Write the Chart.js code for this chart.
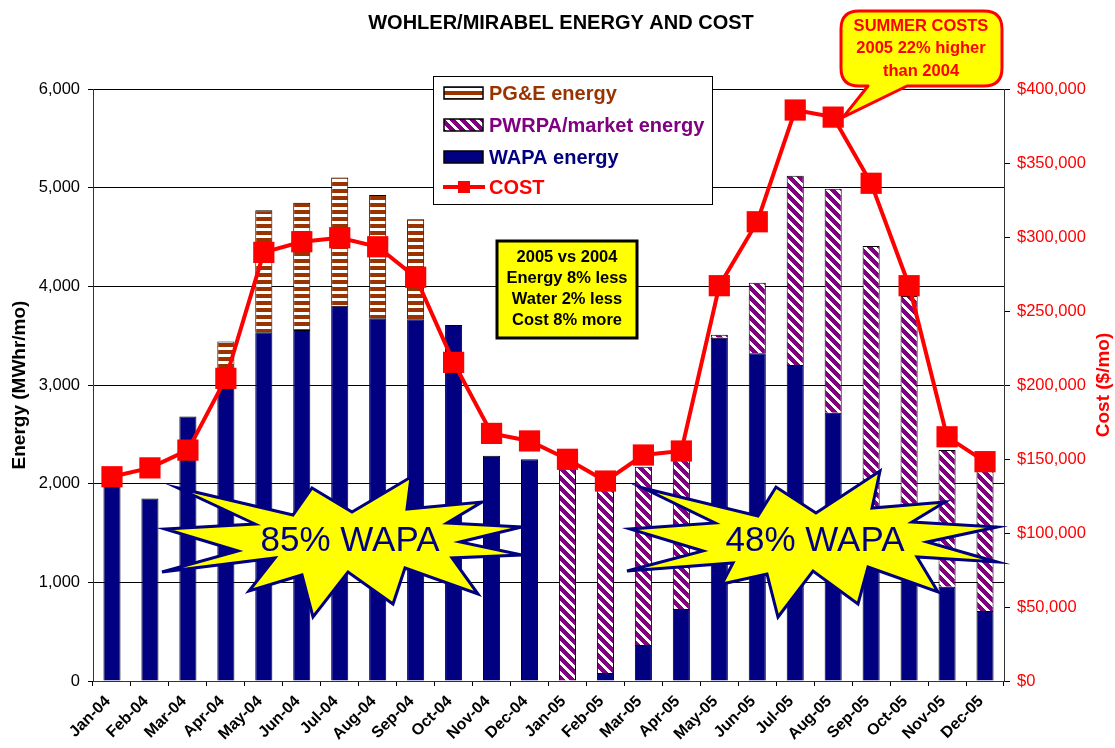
<!DOCTYPE html>
<html>
<head>
<meta charset="utf-8">
<script src="https://cdn.jsdelivr.net/npm/chart.js@4.4.1/dist/chart.umd.min.js"></script>
<style>
  body { margin: 0; background: #fff; }
  #wrap { width: 1115px; height: 748px; }
</style>
</head>
<body>
<div id="wrap"><canvas id="canvas" width="1115" height="748"></canvas></div>
<script>
// months on the x axis
const months = ["Jan-04","Feb-04","Mar-04","Apr-04","May-04","Jun-04","Jul-04","Aug-04","Sep-04","Oct-04","Nov-04","Dec-04",
  "Jan-05","Feb-05","Mar-05","Apr-05","May-05","Jun-05","Jul-05","Aug-05","Sep-05","Oct-05","Nov-05","Dec-05"];

// energy, MWhr/mo
const wapaEnergy = [2000,1850,2680,3000,3534,3557,3804,3676,3666,3608,2284,2247,
  null,80,365,730,3480,3321,3203,2720,1700,1450,956,709];
const pwrpaEnergy = [null,null,null,null,null,null,null,null,null,null,null,null,
  2200,1920,1807,1550,30,716,1919,2270,2709,2452,1385,1441];
const pgeEnergy = [null,null,null,440,1236,1290,1300,1250,1013,null,null,null,
  null,null,null,null,null,null,null,null,null,null,null,null];

// cost, $/mo
const cost = [138000,144000,156000,204500,289600,296800,299500,293400,272800,215300,167300,162200,
  149800,135100,152700,155400,267100,310300,385800,381000,336300,267100,165000,148200];

const energyTicks = { min: 0, max: 6000, step: 1000 };
const costTicks = { min: 0, max: 400000, step: 50000 };

const NAVY = "#000080", PURPLE = "#800080", BROWN = "#993300", RED = "#FF0000", YELLOW = "#FFFF00";
const FONT = "'Liberation Sans', Arial, sans-serif";

function stripes(kind) {
  const c = document.createElement("canvas");
  const n = kind == "h" ? 7 : 10;
  c.width = n; c.height = n;
  const g = c.getContext("2d");
  g.fillStyle = "#fff";
  g.fillRect(0, 0, n, n);
  g.fillStyle = kind == "h" ? BROWN : PURPLE;
  for (let x = 0; x < n; x++) {
    for (let y = 0; y < n; y++) {
      if (kind == "h" && y < 4) g.fillRect(x, y, 1, 1);
      if (kind == "d" && ((x - y + 20) % 10) < 6) g.fillRect(x, y, 1, 1);
    }
  }
  return g.createPattern(c, "repeat");
}
const pgePattern = stripes("h");
const pwrpaPattern = stripes("d");

// star shapes, offsets from their centre
const star1 = [[-172,-52],[-57,-25],[-38,-52],[2,-28],[61,-63],[57,-31],[132,-38],[97,-17],[172,-13],[110,2],
  [172,15],[102,18],[128,54],[55,28],[43,64],[-2,32],[-37,77],[-48,35],[-101,51],[-75,18],[-188,32],[-112,11],[-185,-11],[-95,-16]];
const star2 = [[-172,-52],[-57,-24],[-39,-53],[1,-27],[65,-69],[57,-32],[130,-38],[97,-18],[182,-13],[112,2],
  [182,22],[102,17],[123,52],[53,27],[43,64],[-2,31],[-37,77],[-48,34],[-93,44],[-82,23],[-188,31],[-112,11],[-185,-11],[-100,-17]];

function drawStar(ctx, cx, cy, pts, label) {
  ctx.save();
  ctx.beginPath();
  pts.forEach((p, i) => {
    if (i == 0) ctx.moveTo(cx + p[0], cy + p[1]);
    else ctx.lineTo(cx + p[0], cy + p[1]);
  });
  ctx.closePath();
  ctx.fillStyle = YELLOW;
  ctx.fill();
  ctx.lineWidth = 3;
  ctx.lineJoin = "miter";
  ctx.strokeStyle = NAVY;
  ctx.stroke();
  ctx.fillStyle = NAVY;
  ctx.font = "35px " + FONT;
  ctx.textAlign = "center";
  ctx.textBaseline = "middle";
  ctx.fillText(label, cx, cy + 1);
  ctx.restore();
}

const extras = {
  id: "extras",
  afterDraw(chart) {
    const ctx = chart.ctx;
    const a = chart.chartArea;
    ctx.save();

    // title
    ctx.fillStyle = "#000";
    ctx.font = "bold 20px " + FONT;
    ctx.textAlign = "center";
    ctx.textBaseline = "middle";
    ctx.fillText("WOHLER/MIRABEL ENERGY AND COST", 561, 23);

    // right axis title
    ctx.save();
    ctx.translate(1104, (a.top + a.bottom) / 2);
    ctx.rotate(-Math.PI / 2);
    ctx.fillStyle = RED;
    ctx.font = "bold 19px " + FONT;
    ctx.fillText("Cost ($/mo)", 0, 0);
    ctx.restore();

    // legend
    ctx.fillStyle = "#fff";
    ctx.fillRect(434, 77, 279, 128);
    ctx.strokeStyle = "#000";
    ctx.lineWidth = 1;
    ctx.strokeRect(433.5, 76.5, 279, 128);
    const rows = [
      { y: 93, fill: pgePattern, color: BROWN, text: "PG&E energy" },
      { y: 125, fill: pwrpaPattern, color: PURPLE, text: "PWRPA/market energy" },
      { y: 157, fill: NAVY, color: NAVY, text: "WAPA energy" },
      { y: 187, line: true, color: RED, text: "COST" }
    ];
    ctx.font = "bold 20px " + FONT;
    ctx.textAlign = "left";
    ctx.textBaseline = "middle";
    rows.forEach(r => {
      if (r.line) {
        ctx.strokeStyle = RED;
        ctx.lineWidth = 4;
        ctx.beginPath();
        ctx.moveTo(443, r.y);
        ctx.lineTo(485, r.y);
        ctx.stroke();
        ctx.fillStyle = RED;
        ctx.fillRect(458, r.y - 6, 12, 12);
      } else {
        ctx.fillStyle = r.fill;
        ctx.fillRect(444, r.y - 6, 39, 12);
        ctx.strokeStyle = "#000";
        ctx.lineWidth = 1.5;
        ctx.strokeRect(444, r.y - 6, 39, 12);
      }
      ctx.fillStyle = r.color;
      ctx.fillText(r.text, 489, r.y + 1);
    });

    // comparison box
    ctx.fillStyle = YELLOW;
    ctx.fillRect(497, 241, 140, 97);
    ctx.strokeStyle = "#000";
    ctx.lineWidth = 3;
    ctx.strokeRect(497, 241, 140, 97);
    ctx.fillStyle = "#000";
    ctx.font = "bold 16.5px " + FONT;
    ctx.textAlign = "center";
    ["2005 vs 2004", "Energy 8% less", "Water 2% less", "Cost 8% more"].forEach((t, i) => {
      ctx.fillText(t, 567, 257 + i * 21);
    });

    // stars
    drawStar(ctx, 350, 540, star1, "85% WAPA");
    drawStar(ctx, 815, 540, star2, "48% WAPA");

    // callout pointing at the Aug-05 cost point
    const px = chart.scales.x.getPixelForValue(19);
    const py = chart.scales.y1.getPixelForValue(cost[19]);
    const l = 841, t = 11, r = 1002, b = 86, rad = 18;
    ctx.beginPath();
    ctx.moveTo(l + rad, t);
    ctx.lineTo(r - rad, t);
    ctx.quadraticCurveTo(r, t, r, t + rad);
    ctx.lineTo(r, b - rad);
    ctx.quadraticCurveTo(r, b, r - rad, b);
    ctx.lineTo(907, b);
    ctx.lineTo(px + 10, py);
    ctx.lineTo(868, b);
    ctx.lineTo(l + rad, b);
    ctx.quadraticCurveTo(l, b, l, b - rad);
    ctx.lineTo(l, t + rad);
    ctx.quadraticCurveTo(l, t, l + rad, t);
    ctx.closePath();
    ctx.fillStyle = YELLOW;
    ctx.fill();
    ctx.strokeStyle = RED;
    ctx.lineWidth = 3;
    ctx.lineJoin = "round";
    ctx.stroke();
    ctx.fillStyle = RED;
    ctx.font = "bold 16.5px " + FONT;
    ctx.textAlign = "center";
    ["SUMMER COSTS", "2005 22% higher", "than 2004"].forEach((s, i) => {
      ctx.fillText(s, 921, 26 + i * 22.5);
    });

    ctx.restore();
  }
};

const ctx = document.getElementById("canvas").getContext("2d");
const myChart = new Chart(ctx, {
  data: {
    labels: months,
    datasets: [
      {
        type: "line",
        label: "COST",
        data: cost,
        yAxisID: "y1",
        borderColor: RED,
        backgroundColor: RED,
        borderWidth: 4,
        pointStyle: "rect",
        pointRadius: 15,
        pointBorderWidth: 0,
        tension: 0,
        order: 0
      },
      {
        type: "bar",
        label: "WAPA energy",
        data: wapaEnergy,
        backgroundColor: NAVY,
        borderColor: "#000",
        borderWidth: 1,
        stack: "e",
        order: 1
      },
      {
        type: "bar",
        label: "PWRPA/market energy",
        data: pwrpaEnergy,
        backgroundColor: pwrpaPattern,
        borderColor: "#000",
        borderWidth: 1,
        stack: "e",
        order: 1
      },
      {
        type: "bar",
        label: "PG&E energy",
        data: pgeEnergy,
        backgroundColor: pgePattern,
        borderColor: "#000",
        borderWidth: 1,
        stack: "e",
        order: 1
      }
    ]
  },
  options: {
    responsive: false,
    animation: false,
    devicePixelRatio: 1,
    layout: { padding: { top: 89, left: 0, right: 0, bottom: 0 } },
    datasets: { bar: { barPercentage: 0.45, categoryPercentage: 1 } },
    plugins: { legend: { display: false }, tooltip: { enabled: false }, title: { display: false } },
    scales: {
      x: {
        stacked: true,
        offset: true,
        grid: { drawOnChartArea: false, tickLength: 5, color: "#000", offset: true },
        border: { color: "#333", width: 1 },
        ticks: {
          autoSkip: false,
          minRotation: 45,
          maxRotation: 45,
          padding: 6,
          labelOffset: -4,
          color: "#000",
          font: { family: FONT, size: 16, weight: "bold" }
        },
        afterFit: (s) => { s.height = 67; }
      },
      y: {
        stacked: true,
        position: "left",
        min: energyTicks.min,
        max: energyTicks.max,
        grid: { color: "#000", tickLength: 5 },
        border: { color: "#333", width: 1 },
        ticks: {
          stepSize: energyTicks.step,
          padding: 8,
          color: "#000",
          font: { family: FONT, size: 16.5 },
          callback: (v) => v.toLocaleString("en-US")
        },
        title: {
          display: true,
          text: "Energy (MWhr/mo)",
          color: "#000",
          font: { family: FONT, size: 19, weight: "bold" },
          padding: { top: 8, bottom: 0 }
        },
        afterFit: (s) => { s.width = 93; }
      },
      y1: {
        position: "right",
        min: costTicks.min,
        max: costTicks.max,
        grid: { drawOnChartArea: false, tickLength: 6, color: "#000" },
        border: { color: "#333", width: 1 },
        ticks: {
          stepSize: costTicks.step,
          padding: 7,
          color: RED,
          font: { family: FONT, size: 16.5 },
          callback: (v) => "$" + v.toLocaleString("en-US")
        },
        afterFit: (s) => { s.width = 111; }
      }
    }
  },
  plugins: [extras]
});
</script>
</body>
</html>
